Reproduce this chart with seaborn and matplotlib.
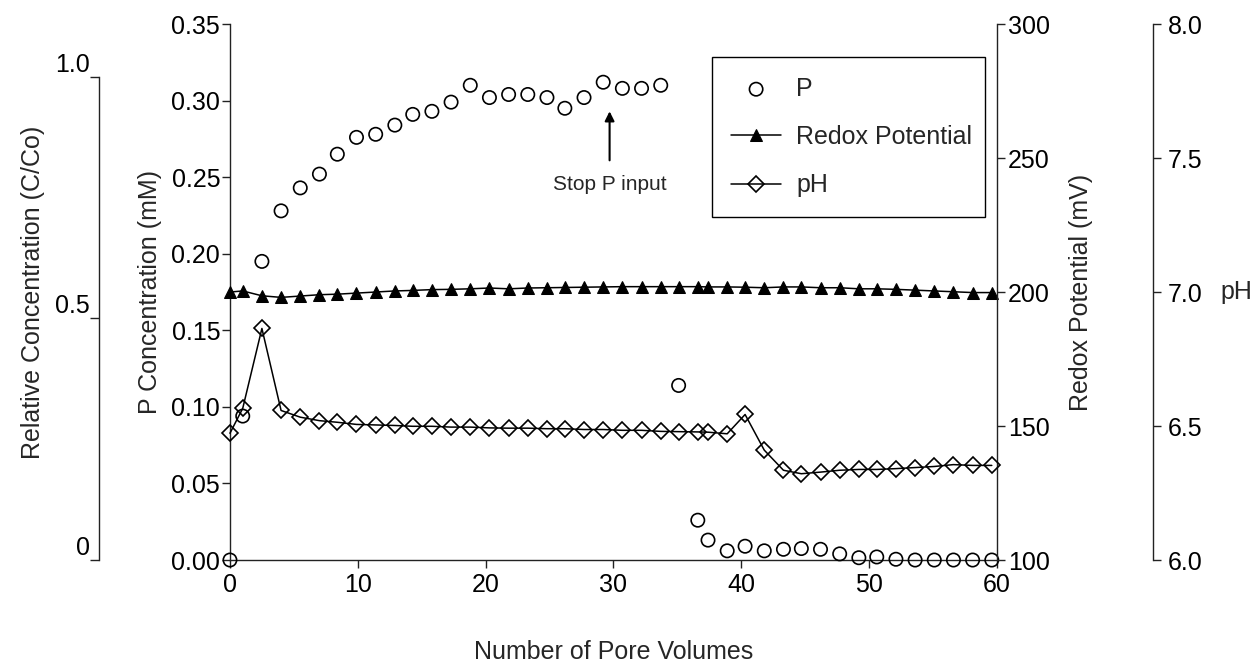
import matplotlib
matplotlib.use("Agg")
import matplotlib.pyplot as plt
import seaborn as sns

# Pore volumes at which each sample was taken
pore_volumes = [0.0, 1.0, 2.5, 4.0, 5.5, 7.0, 8.4, 9.9, 11.4, 12.9, 14.3, 15.8, 17.3, 18.8,
                20.3, 21.8, 23.3, 24.8, 26.2, 27.7, 29.2, 30.7, 32.2, 33.7, 35.1, 36.6,
                37.4, 38.9, 40.3, 41.8, 43.3, 44.7, 46.2, 47.7, 49.2, 50.6, 52.1, 53.6,
                55.1, 56.6, 58.1, 59.6]

# Effluent P concentration (mM)
p_conc = [0.000, 0.094, 0.195, 0.228, 0.243, 0.252, 0.265, 0.276, 0.278, 0.284, 0.291,
          0.293, 0.299, 0.310, 0.302, 0.304, 0.304, 0.302, 0.295, 0.302, 0.312, 0.308,
          0.308, 0.310, 0.114, 0.026, 0.013, 0.006, 0.009, 0.006, 0.007, 0.0075, 0.007,
          0.004, 0.0015, 0.002, 0.0005, 0.000, 0.000, 0.000, 0.000, 0.000]

# Redox potential (mV)
redox = [200.0, 200.4, 198.6, 198.0, 198.5, 199.0, 199.2, 199.6, 200.0, 200.4, 200.6,
         200.9, 201.0, 201.2, 201.5, 201.2, 201.5, 201.6, 201.7, 201.8, 201.9, 202.0,
         202.0, 202.0, 202.0, 202.0, 201.9, 201.9, 201.8, 201.6, 201.9, 201.9, 201.6,
         201.6, 201.2, 201.2, 201.0, 200.7, 200.4, 200.1, 199.8, 199.8]

# Effluent pH
ph = [6.473, 6.566, 6.864, 6.558, 6.533, 6.520, 6.514, 6.506, 6.504, 6.502, 6.499,
      6.499, 6.496, 6.496, 6.493, 6.492, 6.492, 6.490, 6.490, 6.487, 6.487, 6.484,
      6.484, 6.480, 6.479, 6.478, 6.477, 6.471, 6.543, 6.410, 6.335, 6.322, 6.328,
      6.335, 6.338, 6.338, 6.341, 6.345, 6.349, 6.356, 6.353, 6.353]

x_ticks = [0, 10, 20, 30, 40, 50, 60]
p_ticks = [0.00, 0.05, 0.10, 0.15, 0.20, 0.25, 0.30, 0.35]
redox_ticks = [100, 150, 200, 250, 300]
ph_ticks = [6.0, 6.5, 7.0, 7.5, 8.0]
rel_ticks = [0.0, 0.5, 1.0]
rel_tick_labels = ["0", "0.5", "1.0"]

sns.set_theme(style="ticks")
plt.rcParams["font.family"] = ["Liberation Sans", "DejaVu Sans"]
plt.rcParams["font.size"] = 18
plt.rcParams["axes.linewidth"] = 1.0
plt.rcParams["axes.edgecolor"] = "#222222"
plt.rcParams["xtick.color"] = "#222222"
plt.rcParams["ytick.color"] = "#222222"
plt.rcParams["xtick.labelcolor"] = "black"
plt.rcParams["ytick.labelcolor"] = "black"

FS = 18
fig = plt.figure(figsize=(12.6, 6.64), dpi=100)
ax = fig.add_axes([0.1825, 0.1566, 0.6087, 0.8072])

# relative concentration scale (C/Co), offset to the far left
ax_rel = ax.twinx()
# redox potential on the right edge of the plot
ax_redox = ax.twinx()
# pH on an offset right spine
ax_ph = ax.twinx()

# --- P concentration (open circles, no line)
sns.scatterplot(x=pore_volumes, y=p_conc, ax=ax, marker="o", s=92,
                facecolor="none", edgecolor="black", linewidth=1.2,
                clip_on=False, zorder=3, label="P", legend=False)

# --- Redox potential (filled triangles with line)
sns.lineplot(x=pore_volumes, y=redox, ax=ax_redox, color="black", lw=1.1,
             marker="^", markersize=9, markerfacecolor="black",
             markeredgecolor="black", clip_on=False, label="Redox Potential",
             legend=False)

# --- pH (open diamonds with line)
sns.lineplot(x=pore_volumes, y=ph, ax=ax_ph, color="black", lw=1.1,
             marker="D", markersize=7.8, markerfacecolor="none",
             markeredgecolor="black", markeredgewidth=1.2, clip_on=False,
             label="pH", legend=False)

# main axes
ax.set_xlim(0, 60)
ax.set_ylim(0, 0.35)
ax.set_xticks(x_ticks)
ax.set_yticks(p_ticks)
ax.set_yticklabels([f"{v:.2f}" for v in p_ticks])
ax.tick_params(axis="both", direction="out", length=6, width=1.0, labelsize=FS)
ax.tick_params(axis="y", pad=1)
ax.tick_params(axis="x", pad=3.5)
for s in ("top", "right"):
    ax.spines[s].set_visible(False)
ax.set_xlabel("Number of Pore Volumes", fontsize=FS, labelpad=31)
ax.set_ylabel("P Concentration (mM)", fontsize=FS, labelpad=7)
ax.grid(False)

# redox axis
ax_redox.set_ylim(100, 300)
ax_redox.set_yticks(redox_ticks)
ax_redox.tick_params(axis="y", direction="out", length=6, width=1.0,
                     labelsize=FS, pad=2)
for s in ("top", "left", "bottom"):
    ax_redox.spines[s].set_visible(False)
ax_redox.set_ylabel("Redox Potential (mV)", fontsize=FS, labelpad=14)
ax_redox.grid(False)

# pH axis, pushed to the right
ax_ph.set_ylim(6.0, 8.0)
ax_ph.set_yticks(ph_ticks)
ax_ph.set_yticklabels([f"{v:.1f}" for v in ph_ticks])
ax_ph.spines["right"].set_position(("axes", 1.203))
for s in ("top", "left", "bottom"):
    ax_ph.spines[s].set_visible(False)
ax_ph.tick_params(axis="y", direction="out", length=6, width=1.0,
                  labelsize=FS, pad=5)
ax_ph.set_ylabel("pH", fontsize=FS, rotation=0, va="center", ha="left",
                 labelpad=13)
ax_ph.grid(False)

# relative concentration axis, pushed to the left
rel_top = 0.35 / 0.3155
ax_rel.set_ylim(0, rel_top)
ax_rel.yaxis.set_ticks_position("left")
ax_rel.yaxis.set_label_position("left")
ax_rel.spines["left"].set_visible(True)
ax_rel.spines["left"].set_position(("axes", -0.1708))
ax_rel.spines["left"].set_bounds(0, 1.0)
for s in ("top", "right", "bottom"):
    ax_rel.spines[s].set_visible(False)
ax_rel.set_yticks(rel_ticks)
ax_rel.set_yticklabels(rel_tick_labels)
ax_rel.tick_params(axis="y", direction="out", length=6.5, width=1.0,
                   labelsize=FS, pad=0)
for lab in ax_rel.get_yticklabels():
    lab.set_verticalalignment("bottom")
ax_rel.set_ylabel("Relative Concentration (C/Co)", fontsize=FS, labelpad=7)
ax_rel.grid(False)

# end-of-input marker
ax.annotate("", xy=(29.7, 0.293), xytext=(29.7, 0.261),
            arrowprops=dict(arrowstyle="-|>", color="black", lw=1.5,
                            mutation_scale=14, shrinkA=0, shrinkB=0))
ax.text(29.7, 0.2455, "Stop P input", ha="center", va="center", fontsize=15)

# legend collecting the three series
handles = [ax.collections[0], ax_redox.lines[0], ax_ph.lines[0]]
labels = ["P", "Redox Potential", "pH"]
leg = ax_ph.legend(handles, labels, loc="upper left",
                   bbox_to_anchor=(0.628, 0.651, 0.356, 0.287), mode="expand",
                   fontsize=FS, frameon=True, fancybox=False, framealpha=1,
                   edgecolor="black", borderpad=0.78, labelspacing=0.97,
                   handlelength=2.0, handletextpad=0.6, borderaxespad=0)
leg.get_frame().set_linewidth(1.0)

fig.savefig("out.png", dpi=100)
